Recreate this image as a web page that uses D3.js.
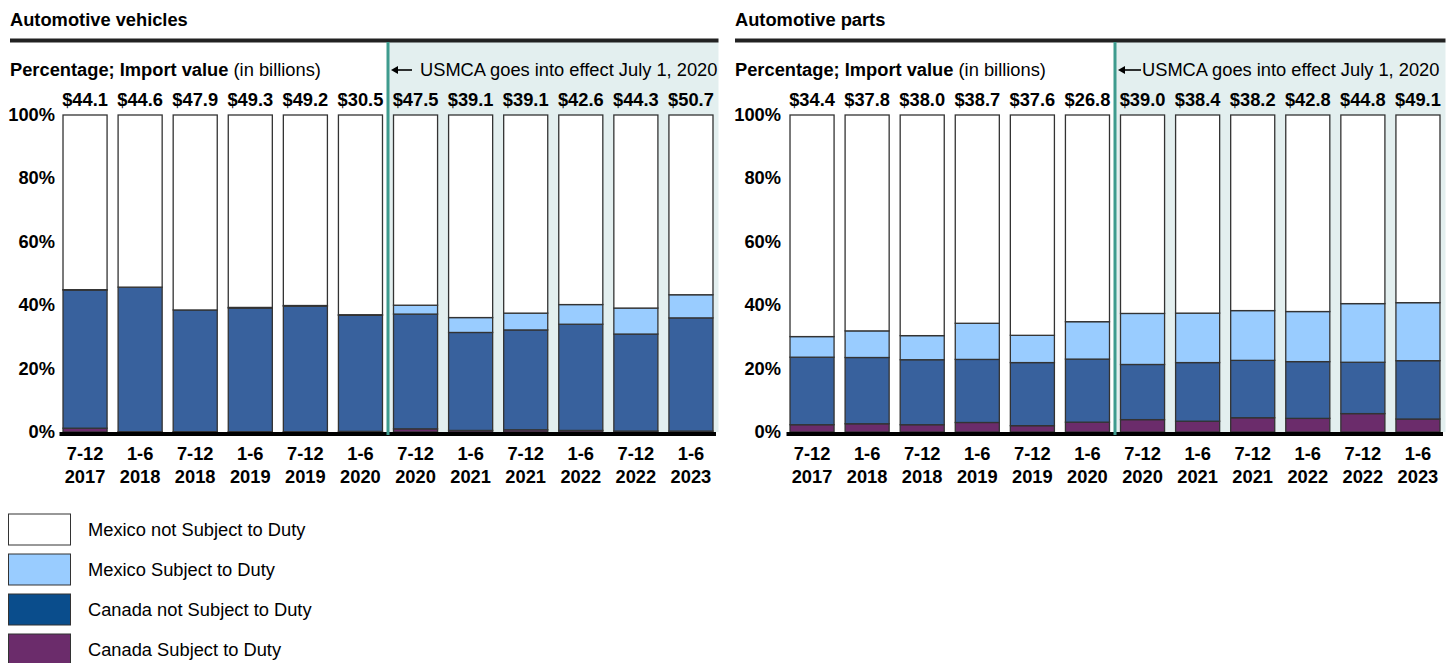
<!DOCTYPE html>
<html><head><meta charset="utf-8">
<script src="https://cdn.jsdelivr.net/npm/d3@7"></script>
<style>body{margin:0;background:#fff;font-family:"Liberation Sans",Arial,sans-serif;}</style>
</head><body><svg id="c" width="1456" height="663"></svg>
<script>
const periods = ["7-12|2017","1-6|2018","7-12|2018","1-6|2019","7-12|2019","1-6|2020","7-12|2020","1-6|2021","7-12|2021","1-6|2022","7-12|2022","1-6|2023"];
const seriesNames = ["Canada Subject to Duty","Canada not Subject to Duty","Mexico Subject to Duty","Mexico not Subject to Duty"];
// Automotive vehicles (percent shares)
const vehCanDuty   = [1.2,0.1,0.1,0.1,0.1,0.2,1.0,0.5,0.7,0.5,0.3,0.3];
const vehCanNoDuty = [43.6,45.6,38.4,39.0,39.6,36.6,36.2,30.9,31.5,33.5,30.6,35.7];
const vehMexDuty   = [0.1,0.0,0.0,0.2,0.2,0.2,2.8,4.7,5.3,6.2,8.2,7.3];
const vehTotals    = ["$44.1","$44.6","$47.9","$49.3","$49.2","$30.5","$47.5","$39.1","$39.1","$42.6","$44.3","$50.7"];
// Automotive parts (percent shares)
const partCanDuty   = [2.3,2.6,2.3,3.0,2.0,3.1,3.9,3.4,4.5,4.3,5.8,4.1];
const partCanNoDuty = [21.3,20.9,20.5,19.9,19.9,19.9,17.4,18.5,18.1,17.9,16.2,18.4];
const partMexDuty   = [6.5,8.4,7.6,11.4,8.6,11.8,16.1,15.6,15.7,15.8,18.5,18.3];
const partTotals    = ["$34.4","$37.8","$38.0","$38.7","$37.6","$26.8","$39.0","$38.4","$38.2","$42.8","$44.8","$49.1"];
const yTicks = [0,20,40,60,80,100];

const fills = {"Canada Subject to Duty":"#6b2c6b","Canada not Subject to Duty":"#38619d","Mexico Subject to Duty":"#99ccff","Mexico not Subject to Duty":"#ffffff"};
const legendFills = {"Canada Subject to Duty":"#6b2c6b","Canada not Subject to Duty":"#0a4d8c","Mexico Subject to Duty":"#99ccff","Mexico not Subject to Duty":"#ffffff"};
const FS = 18.3;

const svg = d3.select("#c");

function panel(cfg){
  const {title, x0, x1, plotL, canDuty, canNoDuty, mexDuty, totals, yLabX} = cfg;
  const g = svg.append("g");
  const rows = periods.map((p,i)=>({p,
    "Canada Subject to Duty":canDuty[i],
    "Canada not Subject to Duty":canNoDuty[i],
    "Mexico Subject to Duty":mexDuty[i],
    "Mexico not Subject to Duty":Math.max(0,100-canDuty[i]-canNoDuty[i]-mexDuty[i])}));
  const x = d3.scaleBand().domain(periods).range([plotL, x1]).paddingInner(0.2).paddingOuter(0.1);
  const y = d3.scaleLinear().domain([0,100]).range([432,115]);
  const usX = (x(periods[5])+x.bandwidth()+x(periods[6]))/2;
  // shaded region
  g.append("rect").attr("x",usX).attr("y",42).attr("width",x1-usX).attr("height",y(0)-42).attr("fill","#e3efef");
  // title
  g.append("text").attr("x",x0).attr("y",26).attr("font-size",FS).attr("font-weight","bold").text(title);
  g.append("line").attr("x1",x0).attr("x2",x1).attr("y1",40.5).attr("y2",40.5).attr("stroke","#222").attr("stroke-width",4);
  // subtitle
  const st = g.append("text").attr("x",x0).attr("y",76).attr("font-size",FS);
  st.append("tspan").attr("font-weight","bold").text("Percentage; Import value ");
  st.append("tspan").text("(in billions)");
  // stacks
  const stack = d3.stack().keys(seriesNames)(rows);
  g.selectAll("g.s").data(stack).join("g").attr("fill",d=>fills[d.key])
    .selectAll("rect").data(d=>d).join("rect")
    .attr("x",d=>x(d.data.p)).attr("width",x.bandwidth())
    .attr("y",d=>y(d[1])).attr("height",d=>Math.max(0,y(d[0])-y(d[1])))
    .attr("stroke","#333").attr("stroke-width",1.3);
  // baseline
  g.append("line").attr("x1",plotL+2).attr("x2",x(periods[11])+x.bandwidth()+3).attr("y1",y(0)+2).attr("y2",y(0)+2).attr("stroke","#000").attr("stroke-width",4);
  // teal line
  g.append("line").attr("x1",usX).attr("x2",usX).attr("y1",42).attr("y2",435).attr("stroke","#3e9b8e").attr("stroke-width",3);
  // annotation
  const ay = 70;
  g.append("line").attr("x1",usX+6).attr("x2",usX+cfg.arrowLen).attr("y1",ay).attr("y2",ay).attr("stroke","#000").attr("stroke-width",1.6);
  g.append("path").attr("d",`M${usX+3},${ay} l7,-4 l0,8 z`).attr("fill","#000");
  g.append("text").attr("x",usX+cfg.arrowLen+cfg.gap).attr("y",ay+6).attr("font-size",FS).text("USMCA goes into effect July 1, 2020");
  // totals
  g.selectAll("text.tot").data(periods).join("text").attr("class","tot")
    .attr("x",d=>x(d)+x.bandwidth()/2).attr("y",106).attr("text-anchor","middle")
    .attr("font-size",FS).attr("font-weight","bold").text((d,i)=>totals[i]);
  // y ticks
  g.selectAll("text.yt").data(yTicks).join("text").attr("class","yt")
    .attr("x",yLabX).attr("y",d=>y(d)+6).attr("text-anchor","end")
    .attr("font-size",FS).attr("font-weight","bold").text(d=>d+"%");
  // x labels
  const xl = g.selectAll("text.xl").data(periods).join("text").attr("class","xl")
    .attr("x",d=>x(d)+x.bandwidth()/2).attr("text-anchor","middle").attr("font-size",FS).attr("font-weight","bold");
  xl.append("tspan").attr("x",d=>x(d)+x.bandwidth()/2).attr("y",460).text(d=>d.split("|")[0]);
  xl.append("tspan").attr("x",d=>x(d)+x.bandwidth()/2).attr("y",483).text(d=>d.split("|")[1]);
}

panel({title:"Automotive vehicles",x0:10,x1:718.5,plotL:57.5,canDuty:vehCanDuty,canNoDuty:vehCanNoDuty,mexDuty:vehMexDuty,totals:vehTotals,yLabX:55,arrowLen:24,gap:8});
panel({title:"Automotive parts",x0:735,x1:1445.5,plotL:784.5,canDuty:partCanDuty,canNoDuty:partCanNoDuty,mexDuty:partMexDuty,totals:partTotals,yLabX:781,arrowLen:26,gap:1});

// legend
const legOrder = ["Mexico not Subject to Duty","Mexico Subject to Duty","Canada not Subject to Duty","Canada Subject to Duty"];
const lg = svg.append("g");
legOrder.forEach((k,i)=>{
  const yy = 514 + i*40;
  lg.append("rect").attr("x",8.5).attr("y",yy).attr("width",62).attr("height",31).attr("fill",legendFills[k]).attr("stroke","#333").attr("stroke-width",1);
  lg.append("text").attr("x",88).attr("y",yy+22).attr("font-size",FS).text(k);
});
</script></body></html>
